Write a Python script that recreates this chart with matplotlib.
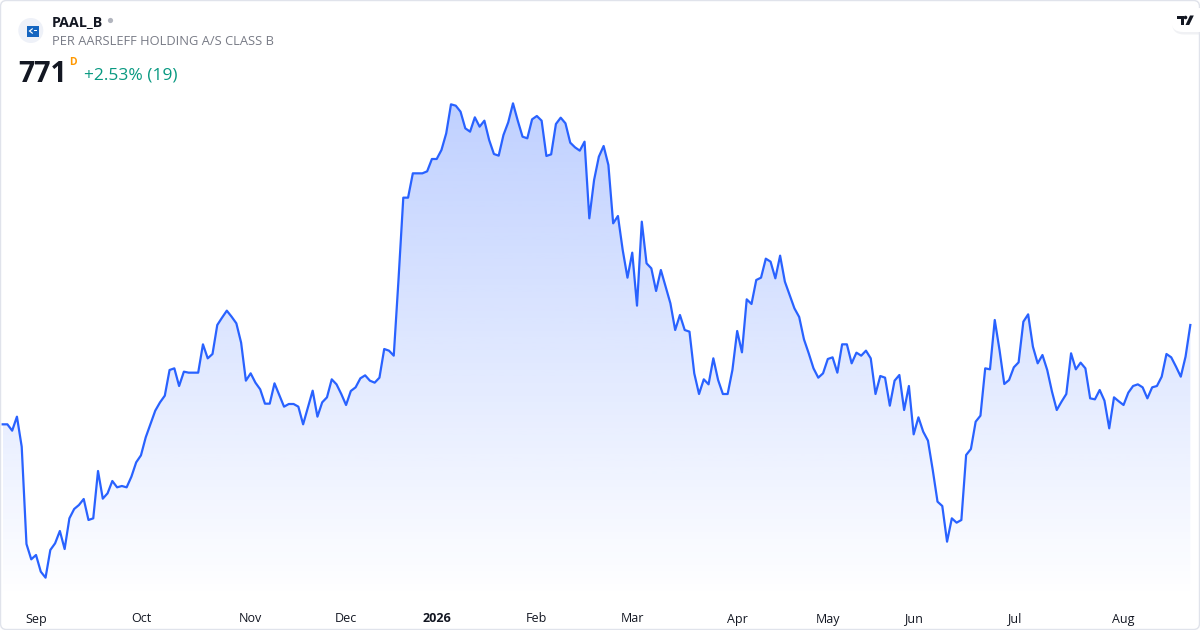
import numpy as np
import pandas as pd
import matplotlib
matplotlib.use('Agg')
import matplotlib.pyplot as plt
from matplotlib.colors import to_rgb
from matplotlib.patches import FancyBboxPatch, Circle, Rectangle, Polygon
from matplotlib.transforms import Affine2D, blended_transform_factory

# daily closes, PAAL B, 21 Aug 2025 -> 21 Aug 2026
prices = [
    711.4, 711.4, 707.6, 716.0, 698.0, 639.6, 630.4, 633.0, 623.0, 619.4,
    636.0, 640.0, 647.4, 636.6, 655.0, 660.6, 663.0, 666.6, 654.0, 655.0,
    683.4, 666.8, 670.0, 677.4, 673.6, 674.4, 673.6, 680.0, 688.6, 692.8,
    703.6, 711.6, 719.6, 724.6, 728.6, 744.0, 745.0, 734.4, 743.0, 742.4,
    742.4, 742.4, 759.4, 751.0, 753.6, 771.0, 775.4, 779.6, 776.0, 772.0,
    760.4, 737.6, 742.0, 736.4, 732.4, 723.8, 723.8, 736.0, 729.0, 722.0,
    723.6, 723.6, 722.0, 711.4, 721.6, 731.6, 716.0, 724.6, 727.6, 738.4,
    735.4, 729.6, 723.0, 731.4, 733.6, 739.0, 740.8, 737.6, 736.4, 739.4,
    756.6, 755.6, 752.6, 798.4, 847.4, 847.4, 862.0, 862.0, 862.0, 863.2,
    870.6, 870.6, 876.0, 886.0, 903.4, 902.6, 899.0, 889.0, 887.0, 895.6,
    890.0, 893.6, 882.0, 873.6, 872.6, 885.0, 892.6, 904.0, 893.6, 884.0,
    883.0, 894.4, 896.4, 893.6, 872.4, 873.4, 891.6, 895.4, 892.0, 880.4,
    877.6, 875.6, 881.0, 835.0, 858.0, 872.0, 878.4, 867.0, 832.0, 836.4,
    816.0, 799.4, 814.4, 782.6, 833.0, 808.0, 805.0, 791.4, 804.0, 794.0,
    784.0, 768.0, 777.0, 768.0, 767.0, 742.0, 729.6, 738.4, 735.4, 751.0,
    738.0, 729.6, 729.6, 744.0, 767.4, 754.6, 786.4, 783.6, 798.0, 799.4,
    810.8, 809.0, 799.0, 812.6, 797.0, 789.0, 781.0, 775.8, 762.4, 754.0,
    745.0, 739.4, 742.0, 750.6, 751.6, 742.4, 759.4, 759.4, 748.0, 754.4,
    752.6, 755.6, 751.0, 729.6, 740.4, 739.4, 722.6, 737.6, 741.0, 720.0,
    734.4, 705.4, 715.6, 707.0, 701.6, 684.0, 665.0, 662.4, 641.0, 655.0,
    652.4, 654.0, 693.0, 696.6, 713.0, 716.6, 745.0, 744.4, 774.0, 756.0,
    735.6, 738.0, 745.6, 748.6, 773.0, 777.4, 758.0, 748.0, 753.0, 744.0,
    731.0, 720.0, 725.0, 729.6, 754.0, 744.4, 748.4, 745.0, 727.0, 726.4,
    732.0, 725.6, 709.0, 727.6, 725.2, 723.0, 730.4, 734.4, 735.4, 733.6,
    727.0, 733.6, 734.4, 740.0, 753.6, 751.6, 746.0, 740.0, 752.0, 771.0,
]
# Nasdaq Copenhagen closing days in the window
holidays = ['2025-12-24', '2025-12-25', '2025-12-26', '2025-12-31', '2026-01-01',
            '2026-04-02', '2026-04-03', '2026-04-06', '2026-05-14', '2026-05-15',
            '2026-05-25', '2026-06-05']

ticker = 'PAAL_B'
name = 'PER AARSLEFF HOLDING A/S CLASS B'
last_txt = '771'
change_txt = '+2.53% (19)'

days = pd.bdate_range('2025-08-21', '2026-08-31')
days = days[~days.isin(pd.to_datetime(holidays))][:len(prices)]
x = np.arange(len(prices))

plt.rcParams['font.family'] = ['Open Sans', 'DejaVu Sans']

W, H = 1200, 630
fig = plt.figure(figsize=(W / 100, H / 100), dpi=100)
fig.patch.set_facecolor('white')
ax = fig.add_axes([0, 0, 1, 1])
ax.set_xlim(-0.55, 251.03)
ax.set_ylim(588, 966)
ax.axis('off')

blue = '#2962ff'

# gradient under the line
grad = np.zeros((256, 1, 4))
grad[..., :3] = to_rgb(blue)
grad[:, 0, 3] = np.linspace(0.30, 0.0, 256)
base = 607
im = ax.imshow(grad, extent=(x[0], x[-1], base, 906), aspect='auto',
               origin='upper', zorder=1, interpolation='bilinear')
verts = [(x[0], base)] + list(zip(x, prices)) + [(x[-1], base)]
clip = Polygon(verts, closed=True, facecolor='none', edgecolor='none')
ax.add_patch(clip)
im.set_clip_path(clip)

ax.plot(x, prices, color=blue, lw=1.6, zorder=3, solid_joinstyle='round')

# month labels at the first trading day of each month
trans = blended_transform_factory(ax.transData, ax.transAxes)
first = pd.Series(x, index=days).groupby([days.year, days.month]).first()
for (yr, mo), i in first.items():
    if i == 0:
        continue
    lab = str(yr) if mo == 1 else days[i].strftime('%b')
    ax.text(i, 1 - 622.5 / H, lab, transform=trans, ha='center', va='baseline',
            fontsize=9, color='#131722', fontweight='bold' if mo == 1 else 'normal')

# pixel coords, origin top-left
pxt = Affine2D().scale(1, -1).translate(0, H)


def ftext(px, py, s, **kw):
    fig.text(px / W, 1 - py / H, s, **kw)


# frame
fig.add_artist(FancyBboxPatch((0.5, 0.5), W - 1, H - 1,
                              boxstyle='round,pad=0,rounding_size=6',
                              fc='none', ec='#e0e3eb', lw=1, transform=pxt))

# symbol logo
fig.add_artist(Circle((30.8, 30.5), 12.5, fc='#eef1f8', ec='none', transform=pxt))
fig.add_artist(Rectangle((26.5, 25.5), 12, 11, fc='#1565c0', ec='none', transform=pxt))
fig.add_artist(Polygon([(28.5, 31), (32.5, 28), (33, 29), (30.5, 31), (33, 33),
                        (32.5, 34)], closed=True, fc='white', ec='none', transform=pxt))
fig.add_artist(Rectangle((33.5, 30.3), 3.5, 1.2, fc='white', ec='none', transform=pxt))

ftext(51.5, 26, ticker, fontsize=10.3, fontweight='bold', color='#131722', va='baseline')
fig.add_artist(Circle((110.5, 20.5), 2.6, fc='#b2b5be', ec='none', transform=pxt))
ftext(51.5, 45.3, name, fontsize=9.3, color='#787b86', va='baseline')

ftext(18, 81.7, last_txt, fontsize=20.5, fontweight='bold', color='#131722', va='baseline')
ftext(69, 65, 'D', fontsize=7.5, fontweight='bold', color='#ff9800', va='baseline')
ftext(84, 80, change_txt, fontsize=12.5, color='#089981', va='baseline')

# TradingView badge, top right
fig.add_artist(FancyBboxPatch((1172, 10.5), 40, 24, boxstyle='round,pad=0,rounding_size=12',
                              fc='#e6e8ee', ec='none', alpha=0.6, transform=pxt))
fig.add_artist(FancyBboxPatch((1171, 8), 40, 24, boxstyle='round,pad=0,rounding_size=12',
                              fc='white', ec='none', transform=pxt))
fig.add_artist(Polygon([(1176.5, 15.5), (1183.5, 15.5), (1183.5, 25), (1180.8, 25), (1180.8, 19.2),
                        (1176.5, 19.2)], closed=True, fc='#131722', ec='none', transform=pxt))
fig.add_artist(Circle((1185.5, 17.5), 1.8, fc='#131722', ec='none', transform=pxt))
fig.add_artist(Polygon([(1190, 15.5), (1193.8, 15.5), (1189.2, 25), (1185.5, 25)],
                       closed=True, fc='#131722', ec='none', transform=pxt))

fig.savefig('out.png', dpi=100)
